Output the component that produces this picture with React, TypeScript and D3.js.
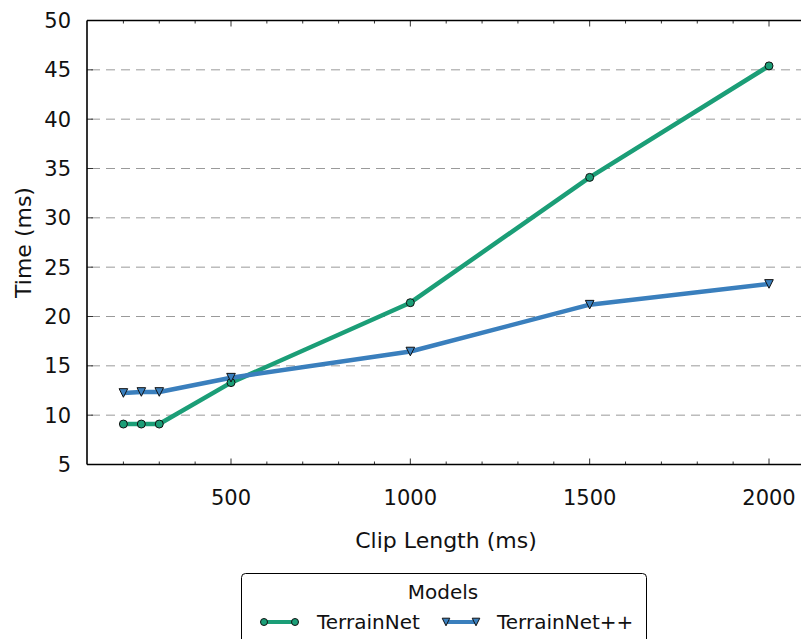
import React from "react";
import { scaleLinear, line, range } from "d3";

const clipLengths = [200, 250, 300, 500, 1000, 1500, 2000];
const terrainNet = [9.1, 9.1, 9.1, 13.3, 21.4, 34.1, 45.4];
const terrainNetPP = [12.25, 12.35, 12.35, 13.8, 16.45, 21.2, 23.3];
const yTicks = [5, 10, 15, 20, 25, 30, 35, 40, 45, 50];
const xTicks = [500, 1000, 1500, 2000];

const W = 801;
const H = 639;
const left = 87;
const top = 20.5;
const bottom = 464.5;
const right = 830; // runs off the picture, like the reference

const x = scaleLinear().domain([500, 2000]).range([231, 769]);
const y = scaleLinear().domain([5, 50]).range([bottom, top]);

const GREEN = "#1b9e77";
const BLUE = "#3a7fbd";
const FS = 21;

const pathOf = line<[number, number]>()
  .x(d => x(d[0]))
  .y(d => y(d[1]));

function tri(cx: number, cy: number, s: number) {
  return `M${cx - s},${cy - s}L${cx + s},${cy - s}L${cx},${cy + s}Z`;
}

export default function App() {
  const minor = range(200, 2101, 100);
  const green = clipLengths.map((c, i) => [c, terrainNet[i]] as [number, number]);
  const blue = clipLengths.map((c, i) => [c, terrainNetPP[i]] as [number, number]);

  return (
    <svg
      width={W}
      height={H}
      style={{ position: "absolute", left: 0, top: 0, background: "#fff", fontFamily: "'DejaVu Sans', sans-serif" }}
    >
      <defs>
        <clipPath id="plot">
          <rect x={left} y={top} width={right - left} height={bottom - top} />
        </clipPath>
      </defs>

      {/* grid */}
      {yTicks.slice(1, -1).map(t => (
        <line
          key={t}
          x1={left}
          x2={right}
          y1={y(t)}
          y2={y(t)}
          stroke="#9a9a9a"
          strokeWidth={1}
          strokeDasharray="9,6"
          strokeDashoffset={-4}
        />
      ))}

      {/* ticks */}
      {minor.map(t => {
        const len = t % 500 === 0 ? 6 : 3;
        return (
          <g key={t} stroke="#333" strokeWidth={1}>
            <line x1={x(t)} x2={x(t)} y1={bottom} y2={bottom - len} />
            <line x1={x(t)} x2={x(t)} y1={top} y2={top + len} />
          </g>
        );
      })}
      {yTicks.map(t => (
        <line key={t} x1={left} x2={left + 6} y1={y(t)} y2={y(t)} stroke="#333" />
      ))}

      {/* spines */}
      <line x1={left} x2={right} y1={top} y2={top} stroke="#000" strokeWidth={1.6} />
      <line x1={left} x2={right} y1={bottom} y2={bottom} stroke="#000" strokeWidth={1.6} />
      <line x1={left} x2={left} y1={top} y2={bottom} stroke="#000" strokeWidth={1.6} />

      {/* tick labels */}
      {yTicks.map(t => (
        <text key={t} x={71} y={y(t)} dy="0.36em" textAnchor="end" fontSize={FS} fill="#111">
          {t}
        </text>
      ))}
      {xTicks.map(t => (
        <text key={t} x={x(t)} y={505} textAnchor="middle" fontSize={FS} fill="#111">
          {t}
        </text>
      ))}

      {/* axis titles */}
      <text x={446} y={548} textAnchor="middle" fontSize={22} fill="#111">
        Clip Length (ms)
      </text>
      <text
        transform={`translate(31,${(top + bottom) / 2}) rotate(-90)`}
        textAnchor="middle"
        fontSize={22}
        fill="#111"
      >
        Time (ms)
      </text>

      {/* series */}
      <g clipPath="url(#plot)">
        <path d={pathOf(green) || ""} fill="none" stroke={GREEN} strokeWidth={4.5} strokeLinejoin="round" />
        <path d={pathOf(blue) || ""} fill="none" stroke={BLUE} strokeWidth={4.5} strokeLinejoin="round" />
        {green.map((d, i) => (
          <circle key={i} cx={x(d[0])} cy={y(d[1])} r={4} fill={GREEN} stroke="#111" strokeWidth={1} />
        ))}
        {blue.map((d, i) => (
          <path key={i} d={tri(x(d[0]), y(d[1]), 4.3)} fill={BLUE} stroke="#111" strokeWidth={1} />
        ))}
      </g>

      {/* legend */}
      <rect x={241.5} y={573.5} width={405} height={80} rx={4} fill="#fff" stroke="#000" strokeWidth={1} />
      <text x={443} y={599} textAnchor="middle" fontSize={20} fill="#111">
        Models
      </text>
      <line x1={264} x2={295} y1={622} y2={622} stroke={GREEN} strokeWidth={4} />
      <circle cx={264} cy={622} r={3.5} fill={GREEN} stroke="#111" />
      <circle cx={295} cy={622} r={3.5} fill={GREEN} stroke="#111" />
      <text x={317} y={629} fontSize={20} fill="#111">
        TerrainNet
      </text>
      <line x1={446} x2={476} y1={622} y2={622} stroke={BLUE} strokeWidth={4} />
      <path d={tri(446, 622, 3.8)} fill={BLUE} stroke="#111" />
      <path d={tri(476, 622, 3.8)} fill={BLUE} stroke="#111" />
      <text x={497} y={629} fontSize={20} fill="#111">
        TerrainNet++
      </text>
    </svg>
  );
}
